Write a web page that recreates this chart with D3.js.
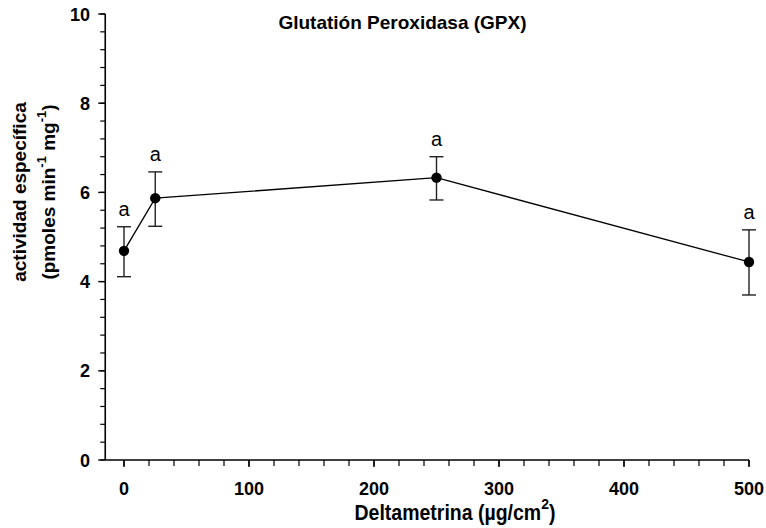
<!DOCTYPE html>
<html>
<head>
<meta charset="utf-8">
<script src="https://cdn.jsdelivr.net/npm/d3@7"></script>
<style>
  html, body { margin: 0; padding: 0; background: #fff; }
  svg { display: block; font-family: "Liberation Sans", Arial, sans-serif; }
</style>
</head>
<body>
<svg id="chart" width="766" height="528"></svg>
<script>
// ---- data ----
const doses = [0, 25, 250, 500];
const means = [4.69, 5.87, 6.33, 4.44];
const errUpper = [5.23, 6.46, 6.80, 5.16];
const errLower = [4.11, 5.24, 5.83, 3.70];
const groupLabels = ["a", "a", "a", "a"];
const xTicks = [0, 100, 200, 300, 400, 500];
const yTicks = [0, 2, 4, 6, 8, 10];
const title = "Glutatión Peroxidasa (GPX)";

const svg = d3.select("#chart");
const x = d3.scaleLinear().domain([-15, 500]).range([105.25, 749]);
const y = d3.scaleLinear().domain([0, 10]).range([460, 14]);

const axisColor = "#000";

// y axis
const yAxis = svg.append("g");
yAxis.append("line").attr("x1", x(-15)).attr("x2", x(-15)).attr("y1", y(10)).attr("y2", y(0))
  .attr("stroke", axisColor).attr("stroke-width", 1.6);
const yMinor = d3.range(0, 10.001, 0.4);
yAxis.selectAll(".ym").data(yMinor).join("line")
  .attr("x1", x(-15) - 5).attr("x2", x(-15)).attr("y1", d => y(d)).attr("y2", d => y(d))
  .attr("stroke", axisColor).attr("stroke-width", 1.2);
yAxis.selectAll(".yM").data(yTicks).join("line")
  .attr("x1", x(-15) - 7).attr("x2", x(-15)).attr("y1", d => y(d)).attr("y2", d => y(d))
  .attr("stroke", axisColor).attr("stroke-width", 1.4);
yAxis.selectAll("text").data(yTicks).join("text")
  .attr("x", 90).attr("y", d => y(d) + 6.5)
  .attr("text-anchor", "end").attr("font-size", 18).attr("font-weight", "bold")
  .text(d => d);

// x axis
const xAxis = svg.append("g");
xAxis.append("line").attr("x1", x(-15)).attr("x2", x(500)).attr("y1", y(0)).attr("y2", y(0))
  .attr("stroke", axisColor).attr("stroke-width", 1.6);
const xMinor = d3.range(0, 500.001, 20);
xAxis.selectAll(".xm").data(xMinor).join("line")
  .attr("x1", d => x(d)).attr("x2", d => x(d)).attr("y1", y(0)).attr("y2", y(0) + 6)
  .attr("stroke", axisColor).attr("stroke-width", 1.2);
xAxis.selectAll(".xM").data(xTicks).join("line")
  .attr("x1", d => x(d)).attr("x2", d => x(d)).attr("y1", y(0)).attr("y2", y(0) + 7)
  .attr("stroke", axisColor).attr("stroke-width", 1.4);
xAxis.selectAll("text").data(xTicks).join("text")
  .attr("x", d => x(d)).attr("y", 495)
  .attr("text-anchor", "middle").attr("font-size", 18).attr("font-weight", "bold")
  .text(d => d);

// x axis title (slightly tall glyphs as in the reference)
const xtG = svg.append("g").attr("transform", "translate(455,520) scale(1,1.1)");
const xt = xtG.append("text").attr("x", 0).attr("y", 0)
  .attr("text-anchor", "middle").attr("font-size", 19.5).attr("font-weight", "bold");
xt.append("tspan").text("Deltametrina (µg/cm");
xt.append("tspan").attr("font-size", 14).attr("dy", -10).text("2");
xt.append("tspan").attr("dy", 10).text(")");

// y axis title
const yt = svg.append("g").attr("transform", "translate(0,192) rotate(-90)");
yt.append("text").attr("x", 0).attr("y", 26).attr("text-anchor", "middle")
  .attr("font-size", 19).attr("font-weight", "bold").text("actividad específica");
const yt2 = yt.append("text").attr("x", 0).attr("y", 55).attr("text-anchor", "middle")
  .attr("font-size", 19).attr("font-weight", "bold");
yt2.append("tspan").text("(pmoles min");
yt2.append("tspan").attr("font-size", 13).attr("dy", -9).text("-1");
yt2.append("tspan").attr("dy", 9).text(" mg");
yt2.append("tspan").attr("font-size", 13).attr("dy", -9).text("-1");
yt2.append("tspan").attr("dy", 9).text(")");

// title
svg.append("text").attr("x", 402.5).attr("y", 29).attr("text-anchor", "middle")
  .attr("font-size", 19).attr("font-weight", "bold").text(title);

// data line
const pts = doses.map((d, i) => ({x: d, y: means[i], hi: errUpper[i], lo: errLower[i], g: groupLabels[i]}));
svg.append("path").datum(pts)
  .attr("d", d3.line().x(d => x(d.x)).y(d => y(d.y)))
  .attr("fill", "none").attr("stroke", "#000").attr("stroke-width", 1.3);

// error bars
const eb = svg.append("g").attr("stroke", "#222").attr("stroke-width", 1.4);
eb.selectAll(".v").data(pts).join("line")
  .attr("x1", d => x(d.x)).attr("x2", d => x(d.x)).attr("y1", d => y(d.hi)).attr("y2", d => y(d.lo));
eb.selectAll(".t").data(pts).join("line")
  .attr("x1", d => x(d.x) - 7).attr("x2", d => x(d.x) + 7).attr("y1", d => y(d.hi)).attr("y2", d => y(d.hi));
eb.selectAll(".b").data(pts).join("line")
  .attr("x1", d => x(d.x) - 7).attr("x2", d => x(d.x) + 7).attr("y1", d => y(d.lo)).attr("y2", d => y(d.lo));

// markers
svg.selectAll("circle").data(pts).join("circle")
  .attr("cx", d => x(d.x)).attr("cy", d => y(d.y)).attr("r", 5.2).attr("fill", "#000");

// group labels
svg.selectAll(".glab").data(pts).join("text")
  .attr("x", d => x(d.x)).attr("y", d => y(d.hi) - 11)
  .attr("text-anchor", "middle").attr("font-size", 20).text(d => d.g);
</script>
</body>
</html>
